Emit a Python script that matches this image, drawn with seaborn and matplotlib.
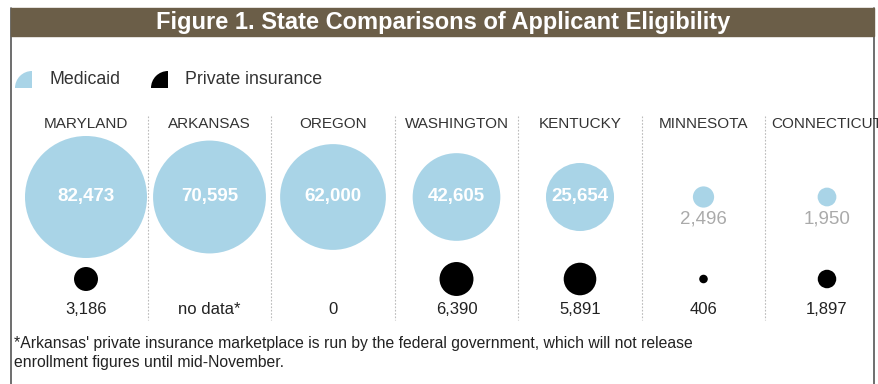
import numpy as np
import pandas as pd
import matplotlib
matplotlib.use("Agg")
import matplotlib.pyplot as plt
import seaborn as sns
from matplotlib import font_manager
from matplotlib.patches import Rectangle, Wedge

# Data
states = ["MARYLAND", "ARKANSAS", "OREGON", "WASHINGTON", "KENTUCKY", "MINNESOTA", "CONNECTICUT"]
medicaid = [82473, 70595, 62000, 42605, 25654, 2496, 1950]
private = [3186, np.nan, 0, 6390, 5891, 406, 1897]
private_labels = ["3,186", "no data*", "0", "6,390", "5,891", "406", "1,897"]
footnote = ("*Arkansas' private insurance marketplace is run by the federal government, which will not release\n"
            "enrollment figures until mid-November.")

# Style
sns.set_theme(style="white")
installed = {f.name for f in font_manager.fontManager.ttflist}
NARROW = "Liberation Sans Narrow" if "Liberation Sans Narrow" in installed else "Liberation Sans"
plt.rcParams['font.family'] = [NARROW, 'DejaVu Sans']

BLUE = "#a9d4e7"
BROWN = "#6b5e48"
W, H, DPI = 879, 384, 100

# Layout: figure in pixel coordinates
X0, STEP = 86, 123.5          # column scale
Y_MED, Y_PRIV = 197, 279       # row centres
R_MAX = 61                     # radius of the largest circle in px
LEFT, RIGHT = 11, 874          # frame edges

df = pd.DataFrame({"state": states, "medicaid": medicaid, "private": private})
df["col"] = np.arange(len(df))
df["x"] = X0 + STEP * df["col"]


def area_size(v):
    # circle area proportional to value; scatter 's' is in points^2
    r = R_MAX * np.sqrt(np.asarray(v, dtype=float) / max(medicaid))
    return (2 * r * 72 / DPI) ** 2, r


fig = plt.figure(figsize=(W / DPI, H / DPI), dpi=DPI)
ax = fig.add_axes([0, 0, 1, 1])
ax.set_xlim(0, W)
ax.set_ylim(H, 0)
ax.set_axis_off()

# Frame and title bar
ax.plot([LEFT, LEFT], [8, H], color="#555555", lw=1.2)
ax.plot([RIGHT, RIGHT], [8, H], color="#555555", lw=1.2)
ax.add_patch(Rectangle((LEFT, 8), RIGHT - LEFT, 28, color=BROWN, zorder=2))
ax.text(443, 22, "Figure 1. State Comparisons of Applicant Eligibility", color="white",
        fontsize=17, fontweight="bold", ha="center", va="center",
        family=["Liberation Sans", "DejaVu Sans"], zorder=3)

# Legend (quarter circles, y axis points down)
ax.add_patch(Wedge((32, 88), 17, 180, 270, color=BLUE, lw=0))
ax.text(50, 80, "Medicaid", fontsize=12.8, color="#333333", va="center")
ax.add_patch(Wedge((168, 88), 17, 180, 270, color="black", lw=0))
ax.text(185, 80, "Private insurance", fontsize=12.8, color="#333333", va="center")

# Column separators
for i in range(len(states) - 1):
    xs = X0 + STEP * (i + 0.5)
    ax.plot([xs, xs], [116, 320], color="#bbbbbb", lw=0.8, ls=(0, (1.5, 1.5)))

# Medicaid circles
s_med, r_med = area_size(df["medicaid"])
sns.scatterplot(x=df["x"], y=[Y_MED] * len(df), s=s_med, color=BLUE, linewidth=0, ax=ax, legend=False)

# Private insurance circles
priv = df.dropna(subset=["private"])
s_priv, _ = area_size(priv["private"])
sns.scatterplot(x=priv["x"], y=[Y_PRIV] * len(priv), s=s_priv, color="black", linewidth=0, ax=ax, legend=False)

# Labels
frame_clip = Rectangle((LEFT, 0), RIGHT - LEFT, H, transform=ax.transData)
for i, row in df.iterrows():
    t = ax.text(row["x"], 124, row["state"], fontsize=11, color="#333333", ha="center", va="center")
    t.set_clip_path(frame_clip)
    label = f"{row['medicaid']:,}"
    if r_med[i] > 25:
        ax.text(row["x"], Y_MED, label, fontsize=13.5, fontweight="bold", color="white",
                ha="center", va="center")
    else:
        ax.text(row["x"], Y_MED + 22, label, fontsize=13.5, color="#aaaaaa", ha="center", va="center")
    ax.text(row["x"], 309, private_labels[i], fontsize=12, color="#222222", ha="center", va="center")

ax.text(14, 353, footnote, fontsize=11.3, color="#222222", ha="left", va="center", linespacing=1.3)

fig.savefig("out.png", dpi=DPI)
